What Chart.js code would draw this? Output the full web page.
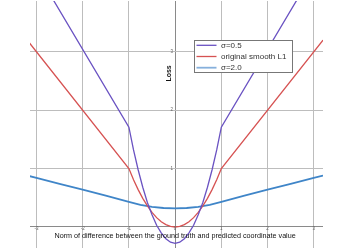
<!DOCTYPE html>
<html>
<head>
<meta charset="utf-8">
<script src="https://cdn.jsdelivr.net/npm/chart.js@4.4.0/dist/chart.umd.min.js"></script>
<style>
  html, body { margin: 0; padding: 0; background: #fff; }
  #wrap { width: 351px; height: 248px; }
</style>
</head>
<body>
<div id="wrap"><canvas id="loss"></canvas></div>
<script>
// values
var purpleX = [-3.2, -1, -0.9, -0.8, -0.7, -0.6, -0.5, -0.4, -0.3, -0.2, -0.1, 0, 0.1, 0.2, 0.3, 0.4, 0.5, 0.6, 0.7, 0.8, 0.9, 1, 3.2];
var purpleY = [4.64, 1.71, 1.32, 0.98, 0.68, 0.42, 0.21, 0.03, -0.1, -0.2, -0.26, -0.28, -0.26, -0.2, -0.1, 0.03, 0.21, 0.42, 0.68, 0.98, 1.32, 1.71, 4.64];

var redX = [-3.2, -1, -0.9, -0.8, -0.7, -0.6, -0.5, -0.4, -0.3, -0.2, -0.1, 0, 0.1, 0.2, 0.3, 0.4, 0.5, 0.6, 0.7, 0.8, 0.9, 1, 3.2];
var redY = [3.2, 1, 0.81, 0.64, 0.49, 0.36, 0.25, 0.16, 0.09, 0.04, 0.01, 0, 0.01, 0.04, 0.09, 0.16, 0.25, 0.36, 0.49, 0.64, 0.81, 1, 3.2];

var blueX = [-3.2, -3, -2.5, -2, -1.5, -1, -0.75, -0.5, -0.25, 0, 0.25, 0.5, 0.75, 1, 1.5, 2, 2.5, 3, 3.2];
var blueY = [0.88, 0.84, 0.74, 0.64, 0.535, 0.43, 0.38, 0.345, 0.325, 0.32, 0.325, 0.345, 0.38, 0.43, 0.535, 0.64, 0.74, 0.84, 0.88];

var labels = ['σ=0.5', 'original smooth L1', 'σ=2.0'];
var xTicks = [-3, -2, -1, 0, 1, 2, 3];
var yTicks = [1, 2, 3];
var xTitle = 'Norm of difference between the ground truth and predicted coordinate value';
var yTitle = 'Loss';

function pts(xs, ys) {
  var out = [];
  for (var i = 0; i < xs.length; i++) out.push({x: xs[i], y: ys[i]});
  return out;
}

var extras = {
  id: 'extras',
  afterDraw: function(chart) {
    var ctx = chart.ctx, xs = chart.scales.x, ys = chart.scales.y;
    var x0 = xs.getPixelForValue(0), y0 = ys.getPixelForValue(0);
    ctx.save();
    // tick labels
    ctx.fillStyle = '#666';
    ctx.font = '4.5px "Liberation Sans", Arial, sans-serif';
    ctx.textAlign = 'center';
    ctx.textBaseline = 'middle';
    xTicks.forEach(function(v) {
      ctx.fillText(String(v), xs.getPixelForValue(v), y0 + 1.5);
    });
    ctx.textAlign = 'right';
    yTicks.forEach(function(v) {
      ctx.fillText(String(v), x0 - 2, ys.getPixelForValue(v));
    });
    // axis titles
    ctx.fillStyle = '#111';
    ctx.font = '7.2px "Liberation Sans", Arial, sans-serif';
    ctx.textAlign = 'center';
    ctx.fillText(xTitle, x0, y0 + 9);
    ctx.save();
    ctx.translate(x0 - 6, ys.getPixelForValue(2.63));
    ctx.rotate(-Math.PI / 2);
    ctx.font = 'bold 7px "Liberation Sans", Arial, sans-serif';
    ctx.fillText(yTitle, 0, 0);
    ctx.restore();
    // legend box
    var bx = 194.5, by = 40.5, bw = 98, bh = 32;
    ctx.fillStyle = '#fff';
    ctx.fillRect(bx, by, bw, bh);
    ctx.strokeStyle = '#777';
    ctx.lineWidth = 1;
    ctx.strokeRect(bx, by, bw, bh);
    ctx.font = '8px "Liberation Sans", Arial, sans-serif';
    ctx.textAlign = 'left';
    chart.data.datasets.forEach(function(ds, i) {
      var ry = by + 4.8 + i * 11.2;
      ctx.strokeStyle = ds.legendColor;
      ctx.lineWidth = ds.borderWidth;
      ctx.beginPath();
      ctx.moveTo(bx + 2, ry);
      ctx.lineTo(bx + 22, ry);
      ctx.stroke();
      ctx.fillStyle = '#333';
      ctx.fillText(ds.label, bx + 26.5, ry + 0.3);
    });
    ctx.restore();
  }
};

new Chart(document.getElementById('loss').getContext('2d'), {
  type: 'line',
  data: {
    datasets: [{
      label: labels[0],
      data: pts(purpleX, purpleY),
      borderColor: '#6a52c2',
      legendColor: '#6a52c2',
      borderWidth: 1.3
    }, {
      label: labels[1],
      data: pts(redX, redY),
      borderColor: '#d65252',
      legendColor: '#d65252',
      borderWidth: 1.3
    }, {
      label: labels[2],
      data: pts(blueX, blueY),
      borderColor: '#3f85c8',
      legendColor: '#86b0dc',
      borderWidth: 1.8
    }]
  },
  options: {
    responsive: true,
    maintainAspectRatio: false,
    animation: false,
    layout: { padding: { left: 30, right: 28, top: 1, bottom: 0 } },
    elements: {
      point: { radius: 0 },
      line: { tension: 0, fill: false }
    },
    plugins: {
      legend: { display: false },
      tooltip: { enabled: false }
    },
    scales: {
      x: {
        type: 'linear',
        min: -3.14,
        max: 3.2,
        afterBuildTicks: function(s) {
          s.ticks = xTicks.map(function(v) { return {value: v}; });
        },
        ticks: { display: false },
        border: { display: false },
        grid: {
          drawTicks: false,
          color: function(c) { return c.tick && c.tick.value === 0 ? '#8a8a8a' : '#bdbdbd'; },
          lineWidth: 1
        }
      },
      y: {
        type: 'linear',
        min: -0.36,
        max: 3.87,
        afterBuildTicks: function(s) {
          s.ticks = [0].concat(yTicks).map(function(v) { return {value: v}; });
        },
        ticks: { display: false },
        border: { display: false },
        grid: {
          drawTicks: false,
          color: function(c) { return c.tick && c.tick.value === 0 ? '#8a8a8a' : '#bdbdbd'; },
          lineWidth: 1
        }
      }
    }
  },
  plugins: [extras]
});
</script>
</body>
</html>
